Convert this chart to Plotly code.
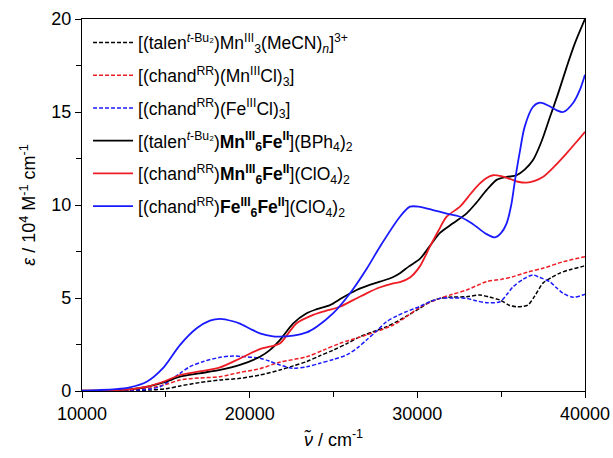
import plotly.graph_objects as go

# ---- data ----
names = [
    "[(talen<sup><i>t</i>-Bu₂</sup>)Mn<sup>III</sup><sub>3</sub>(MeCN)<sub><i>n</i></sub>]<sup>3+</sup>",
    "[(chand<sup>RR</sup>)(Mn<sup>III</sup>Cl)<sub>3</sub>]",
    "[(chand<sup>RR</sup>)(Fe<sup>III</sup>Cl)<sub>3</sub>]",
    "[(talen<sup><i>t</i>-Bu₂</sup>)<b>Mn<sup>III</sup><sub>6</sub>Fe<sup>II</sup></b>](BPh<sub>4</sub>)<sub>2</sub>",
    "[(chand<sup>RR</sup>)<b>Mn<sup>III</sup><sub>6</sub>Fe<sup>II</sup></b>](ClO<sub>4</sub>)<sub>2</sub>",
    "[(chand<sup>RR</sup>)<b>Fe<sup>III</sup><sub>6</sub>Fe<sup>II</sup></b>](ClO<sub>4</sub>)<sub>2</sub>",
]

x_mn3 = [10000, 12000, 14000, 15000, 15840, 17000, 18230, 19420, 20610, 21800, 22600, 23400,
         24200, 24990, 25800, 26580, 27400, 28170, 28960, 29500, 30150, 30750, 31350, 32100,
         32940, 33730, 34300, 34930, 35500, 35920, 36300, 36600, 37000, 37490, 38000, 38500,
         39200, 39880, 40000]
y_mn3 = [0.0, 0.02, 0.05, 0.12, 0.27, 0.45, 0.59, 0.68, 0.86, 1.13, 1.35, 1.58,
         1.9, 2.2, 2.55, 2.92, 3.2, 3.46, 3.82, 4.1, 4.45, 4.8, 4.98, 5.05,
         5.07, 5.16, 5.05, 4.89, 4.6, 4.53, 4.55, 4.62, 5.1, 5.8, 6.1, 6.34,
         6.55, 6.7, 6.75]

x_mncl = [10000, 12000, 13000, 14000, 15000, 15840, 17000, 18230, 19420, 20610, 21800, 23400,
          24400, 25380, 26970, 28560, 29360, 30150, 31350, 32100, 32940, 34130, 35000, 35710,
          36600, 37490, 38700, 39880, 40000]
y_mncl = [0.0, 0.03, 0.06, 0.15, 0.35, 0.59, 0.7, 0.77, 1.0, 1.2, 1.55, 1.84,
          2.2, 2.56, 3.01, 3.55, 4.0, 4.5, 4.98, 5.2, 5.43, 5.88, 6.0, 6.15,
          6.4, 6.6, 6.95, 7.2, 7.22]

x_fecl = [10000, 12000, 13000, 14000, 14650, 15300, 15840, 16440, 17300, 18230, 19000, 19420,
          20610, 21200, 21800, 22600, 23400, 24190, 25000, 25780, 26400, 26970, 27600, 28170,
          28800, 29360, 30150, 30750, 31350, 32140, 32940, 33500, 34130, 34930, 35350, 35710,
          36300, 36890, 37310, 37900, 38300, 38700, 39300, 39880, 40000]
y_fecl = [0.0, 0.02, 0.05, 0.1, 0.23, 0.6, 0.95, 1.31, 1.6, 1.81, 1.88, 1.86,
          1.76, 1.6, 1.4, 1.22, 1.3, 1.49, 1.7, 1.94, 2.3, 2.74, 3.25, 3.73,
          4.05, 4.27, 4.55, 4.8, 4.98, 5.0, 4.98, 4.85, 4.75, 4.8, 5.2, 5.6,
          6.0, 6.24, 6.1, 5.88, 5.55, 5.25, 5.04, 5.16, 5.2]

x_talen7 = [10000, 12000, 13000, 14000, 15000, 15840, 17000, 18230, 19420, 20610, 21200, 21800,
            22600, 23400, 24000, 24790, 25500, 26380, 27000, 27770, 28500, 28960, 29500, 30150,
            30750, 31350, 32100, 32940, 33500, 34130, 34730, 35300, 35920, 36400, 36890, 37400,
            37900, 38400, 38900, 39400, 40000]
y_talen7 = [0.02, 0.05, 0.1, 0.25, 0.5, 0.77, 0.95, 1.13, 1.4, 1.84, 2.2, 2.74,
            3.64, 4.18, 4.4, 4.62, 5.0, 5.43, 5.65, 5.88, 6.1, 6.33, 6.7, 7.1,
            7.8, 8.5, 9.0, 9.55, 10.1, 10.8, 11.35, 11.5, 11.6, 11.9, 12.4, 13.4,
            14.7, 16.0, 17.4, 18.7, 20.0]

x_mn6 = [10000, 12000, 13000, 13860, 15000, 15840, 17000, 18230, 19420, 20610, 21800, 22300,
         22800, 23790, 24500, 25380, 26200, 26970, 27700, 28560, 28960, 29560, 30150, 30750,
         31250, 31750, 32540, 33000, 33530, 34130, 34510, 35000, 35520, 36000, 36520, 37000,
         37510, 38200, 38900, 39500, 40000]
y_mn6 = [0.02, 0.05, 0.1, 0.23, 0.55, 0.86, 1.05, 1.27, 1.75, 2.25, 2.56, 3.1,
         3.64, 4.09, 4.3, 4.53, 4.9, 5.25, 5.55, 5.79, 5.85, 6.1, 6.7, 7.76,
         8.6, 9.37, 9.91, 10.4, 10.98, 11.45, 11.6, 11.55, 11.4, 11.25, 11.2, 11.3,
         11.52, 12.1, 12.78, 13.4, 13.94]

x_fe6 = [10000, 11000, 12000, 12860, 13860, 14830, 15840, 16840, 17630, 18230, 19000, 19420,
         20020, 20610, 21300, 21800, 22600, 23400, 24000, 25000, 26000, 27000, 27770, 28960,
         29560, 30150, 30930, 31700, 32540, 33100, 33530, 34100, 34630, 35000, 35320, 35600,
         35820, 36100, 36400, 36890, 37310, 37800, 38300, 38700, 39300, 39700, 40000]
y_fe6 = [0.02, 0.05, 0.1, 0.2, 0.5, 1.23, 2.47, 3.37, 3.78, 3.88, 3.75, 3.62,
         3.35, 3.1, 2.95, 2.92, 2.98, 3.15, 3.46, 4.2, 5.27, 6.6, 7.76, 9.37,
         9.91, 9.9, 9.73, 9.55, 9.37, 9.1, 8.83, 8.45, 8.26, 8.5, 9.0, 10.0,
         11.3, 12.8, 14.2, 15.27, 15.5, 15.35, 15.1, 15.0, 15.5, 16.2, 17.0]

series = [
    (x_mn3, y_mn3, "black", "dash"),
    (x_mncl, y_mncl, "#ee1c24", "dash"),
    (x_fecl, y_fecl, "#1a1aff", "dash"),
    (x_talen7, y_talen7, "black", "solid"),
    (x_mn6, y_mn6, "#ee1c24", "solid"),
    (x_fe6, y_fe6, "#1a1aff", "solid"),
]

FONT = "Liberation Sans, Arial, sans-serif"

fig = go.Figure()
for i, ((xs, ys, col, style), nm) in enumerate(zip(series, names)):
    fig.add_trace(go.Scatter(
        x=xs, y=ys, mode="lines", name=nm, legendgroup=f"g{i}",
        line=dict(color=col, width=1.5 if style == "dash" else 1.8,
                  dash="4px,2px" if style == "dash" else "solid",
                  shape="spline", smoothing=0.8),
    ))

fig.update_layout(
    width=613, height=458,
    margin=dict(l=82, r=28, t=19, b=67),
    paper_bgcolor="white", plot_bgcolor="white",
    font=dict(family=FONT, size=18, color="black"),
    showlegend=True,
    legend=dict(x=0.012, y=0.985, xanchor="left", yanchor="top",
                bgcolor="rgba(0,0,0,0)", font=dict(size=17.5, family=FONT),
                itemwidth=40, tracegroupgap=7),
)
fig.update_xaxes(
    range=[10000, 40000], showgrid=False, zeroline=False, automargin=False,
    showline=True, linecolor="black", linewidth=1.3, mirror=True,
    ticks="outside", ticklen=6, tickwidth=1.2, tickcolor="black",
    tickvals=[10000, 20000, 30000, 40000], ticktext=["10000", "20000", "30000", "40000"],
    minor=dict(ticks="outside", ticklen=5, tickwidth=1, tickcolor="black",
               tickvals=[15000, 25000, 35000]),
    tickfont=dict(size=18),
    title=dict(text="<i>ν̃</i> / cm<sup>-1</sup>", font=dict(size=18), standoff=10),
)
fig.update_yaxes(
    range=[0, 20], showgrid=False, zeroline=False, automargin=False,
    showline=True, linecolor="black", linewidth=1.3, mirror=True,
    ticks="outside", ticklen=6, tickwidth=1.2, tickcolor="black",
    tickvals=[0, 5, 10, 15, 20],
    minor=dict(ticks="outside", ticklen=5, tickwidth=1, tickcolor="black",
               tickvals=[2.5, 7.5, 12.5, 17.5]),
    tickfont=dict(size=18),
    title=dict(text="<i>ε</i> / 10<sup>4</sup> M<sup>-1</sup> cm<sup>-1</sup>",
               font=dict(size=18), standoff=10),
)

fig.write_html("out.html")
